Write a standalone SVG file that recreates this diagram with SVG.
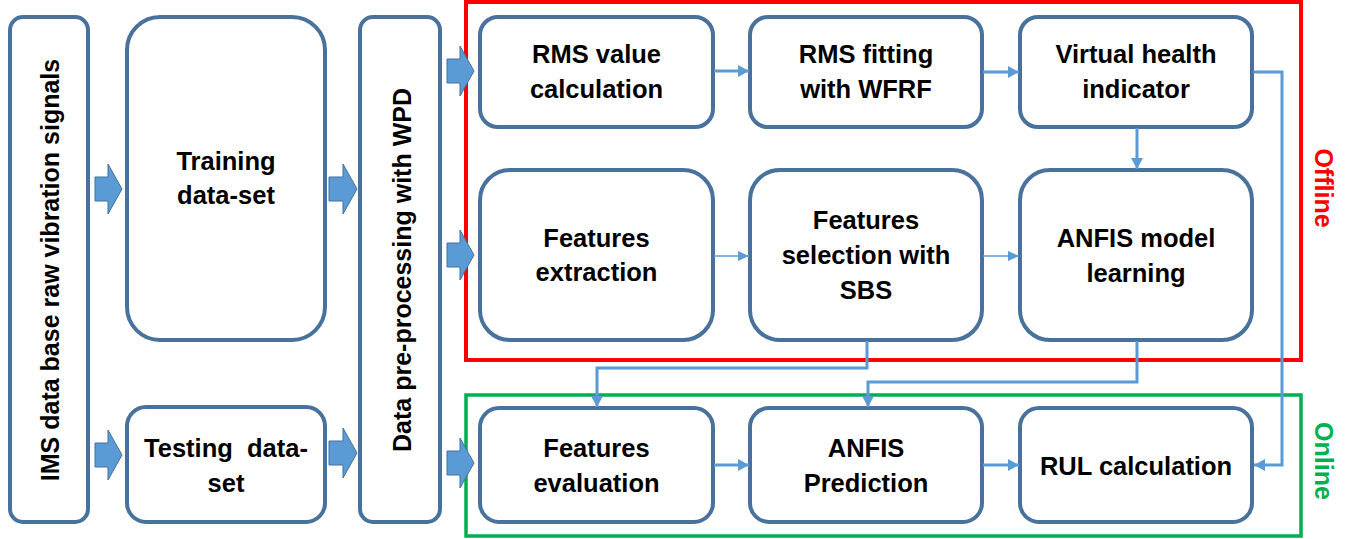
<svg xmlns="http://www.w3.org/2000/svg" width="1353" height="539" viewBox="0 0 1353 539">
<style>
.box{fill:#fff;stroke:#48729c;stroke-width:4}
.t{font-family:"Liberation Sans",Arial,sans-serif;font-weight:bold;font-size:25.5px;fill:#000;text-anchor:middle}
.rt{font-family:"Liberation Sans",Arial,sans-serif;font-weight:bold;font-size:25px;fill:#000;text-anchor:middle}
.blk{fill:#5b9bd5;stroke:#41719c;stroke-width:1}
.c{fill:none;stroke:#5b9bd5;stroke-width:3}
.ct{fill:none;stroke:#5b9bd5;stroke-width:1.5}
</style>
<defs>
<marker id="ah" markerUnits="userSpaceOnUse" markerWidth="12" markerHeight="12" refX="11" refY="6" orient="auto">
<path d="M0,0 L11,6 L0,12 Z" fill="#5b9bd5"/>
</marker>
<marker id="ahs" markerUnits="userSpaceOnUse" markerWidth="12" markerHeight="12" refX="11" refY="6" orient="auto">
<path d="M0,1 L11,6 L0,11 Z" fill="#5b9bd5"/>
</marker>
</defs>

<g id="offline-frame">
<rect x="466" y="2" width="835" height="358" fill="none" stroke="#ff0000" stroke-width="4"/>
<text x="1315" y="188" transform="rotate(90 1315 188)" class="rt" style="fill:#ff0000">Offline</text>
</g>
<g id="online-frame">
<rect x="466" y="395" width="835" height="141" fill="none" stroke="#00b050" stroke-width="3.5"/>
<text x="1315" y="461" transform="rotate(90 1315 461)" class="rt" style="fill:#00b050">Online</text>
</g>

<g id="ims">
<rect class="box" x="10" y="17" width="78" height="505" rx="13"/>
<text class="rt" x="59" y="270" transform="rotate(-90 59 270)">IMS data base raw vibration signals</text>
</g>
<g id="training">
<rect class="box" x="127" y="17" width="198" height="323" rx="33"/>
<text class="t" x="226" y="170">Training</text>
<text class="t" x="226" y="204">data-set</text>
</g>
<g id="testing">
<rect class="box" x="127" y="407" width="198" height="115" rx="19"/>
<text class="t" x="226" y="457" xml:space="preserve">Testing  data-</text>
<text class="t" x="226" y="492">set</text>
</g>
<g id="preprocessing">
<rect class="box" x="360" y="17" width="80" height="505" rx="13"/>
<text class="rt" x="411" y="270" transform="rotate(-90 411 270)">Data pre-processing with WPD</text>
</g>

<g id="rms-value">
<rect class="box" x="480" y="17" width="233" height="110" rx="18"/>
<text class="t" x="596.5" y="63">RMS value</text>
<text class="t" x="596.5" y="98">calculation</text>
</g>
<g id="rms-fitting">
<rect class="box" x="750" y="17" width="232" height="110" rx="18"/>
<text class="t" x="866" y="63">RMS fitting</text>
<text class="t" x="866" y="98">with WFRF</text>
</g>
<g id="virtual-hi">
<rect class="box" x="1020" y="17" width="232" height="110" rx="18"/>
<text class="t" x="1136" y="63">Virtual health</text>
<text class="t" x="1136" y="98">indicator</text>
</g>

<g id="features-extraction">
<rect class="box" x="480" y="170" width="233" height="170" rx="30"/>
<text class="t" x="596.5" y="247">Features</text>
<text class="t" x="596.5" y="281">extraction</text>
</g>
<g id="features-selection">
<rect class="box" x="750" y="170" width="232" height="170" rx="30"/>
<text class="t" x="866" y="229">Features</text>
<text class="t" x="866" y="264">selection with</text>
<text class="t" x="866" y="299">SBS</text>
</g>
<g id="anfis-learning">
<rect class="box" x="1020" y="170" width="232" height="170" rx="30"/>
<text class="t" x="1136" y="247">ANFIS model</text>
<text class="t" x="1136" y="282">learning</text>
</g>

<g id="features-evaluation">
<rect class="box" x="480" y="408" width="233" height="114" rx="19"/>
<text class="t" x="596.5" y="457">Features</text>
<text class="t" x="596.5" y="492">evaluation</text>
</g>
<g id="anfis-prediction">
<rect class="box" x="750" y="408" width="232" height="114" rx="19"/>
<text class="t" x="866" y="457">ANFIS</text>
<text class="t" x="866" y="492">Prediction</text>
</g>
<g id="rul">
<rect class="box" x="1020" y="408" width="232" height="114" rx="19"/>
<text class="t" x="1136" y="475">RUL calculation</text>
</g>

<g id="connectors">
<path class="blk" d="M95,177 H108 V164 L122,189 L108,214 V201 H95 Z"/>
<path class="blk" d="M95,443 H108 V430 L122,455 L108,480 V467 H95 Z"/>
<path class="blk" d="M329,177 H343 V164 L357,189 L343,214 V201 H329 Z"/>
<path class="blk" d="M329,441 H343 V428 L357,453 L343,478 V465 H329 Z"/>
<path class="blk" d="M447,59 H460 V46 L474,71 L460,96 V83 H447 Z"/>
<path class="blk" d="M447,243 H460 V230 L474,255 L460,280 V267 H447 Z"/>
<path class="blk" d="M447,451 H460 V438 L474,463 L460,488 V475 H447 Z"/>

<path class="c" d="M714,71 H749" marker-end="url(#ah)"/>
<path class="c" d="M983,72 H1019" marker-end="url(#ah)"/>
<path class="c" d="M1137,128 V169" marker-end="url(#ah)"/>
<path class="c" d="M1253,72 H1282 V465 H1254" marker-end="url(#ah)"/>
<path class="ct" d="M714,256 H749" marker-end="url(#ahs)"/>
<path class="ct" d="M983,256 H1019" marker-end="url(#ahs)"/>
<path class="c" d="M867,341 V368 H597 V407" marker-end="url(#ah)"/>
<path class="c" d="M1137,341 V382 H868 V407" marker-end="url(#ah)"/>
<path class="c" d="M714,465 H749" marker-end="url(#ah)"/>
<path class="c" d="M983,465 H1019" marker-end="url(#ah)"/>
</g>
</svg>
